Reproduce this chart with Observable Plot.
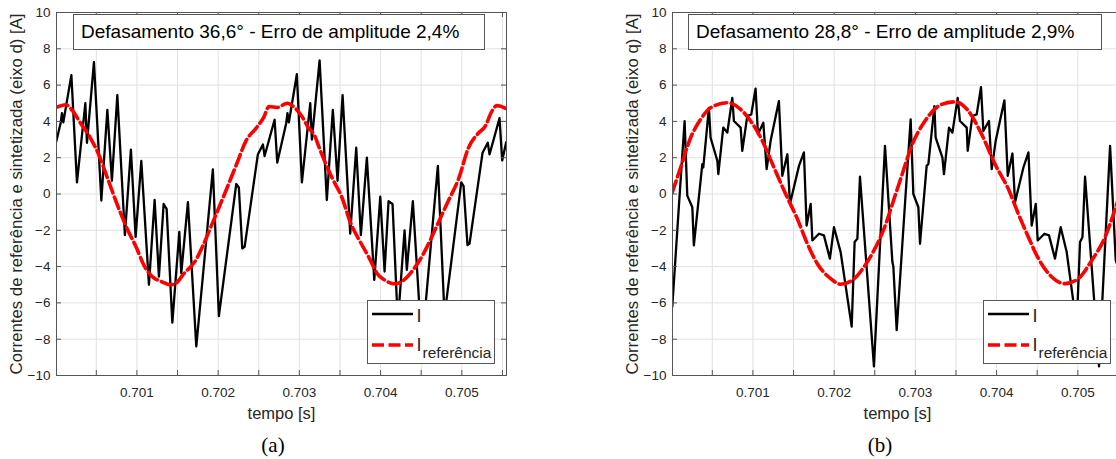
<!DOCTYPE html>
<html><head><meta charset="utf-8">
<script src="https://cdn.jsdelivr.net/npm/d3@7"></script>
<script src="https://cdn.jsdelivr.net/npm/@observablehq/plot@0.6"></script>
<style>
html,body{margin:0;padding:0;background:#fff;}
#page{position:relative;width:1116px;height:459px;overflow:hidden;font-family:"Liberation Sans",Arial,sans-serif;background:#fff;}
.panel{position:absolute;top:0;width:560px;height:425px;}
.panel svg{max-width:none !important;}
.tbox{position:absolute;top:14px;height:36px;box-sizing:border-box;border:1px solid #555;background:#fff;font-size:19px;line-height:34px;padding-left:7px;color:#000;white-space:nowrap;}
.legend{position:absolute;top:300px;width:128px;height:64px;}
.caption{position:absolute;top:430px;width:100px;text-align:center;font-family:"Liberation Serif","DejaVu Serif",serif;font-size:21px;line-height:30px;color:#000;}
</style></head><body><div id="page"></div>
<script>
// ---- tick values ----
const xTickLabels = [0.701, 0.702, 0.703, 0.704, 0.705];
const xTicksAll = [0.7005, 0.701, 0.7015, 0.702, 0.7025, 0.703, 0.7035, 0.704, 0.7045, 0.705, 0.7055];
const yTicks = [-10, -8, -6, -4, -2, 0, 2, 4, 6, 8, 10];
const xDomain = [0.70001, 0.70555];

// ---- panel (a): eixo d ----
const dBlackT = [0.700008,0.700061,0.700077,0.700094,0.700193,0.700262,0.700365,0.700385,0.700471,0.700562,0.700636,0.700692,0.700759,0.700852,0.700926,0.700984,0.701054,0.701148,0.701218,0.701271,0.701329,0.701366,0.701436,0.701522,0.701546,0.701628,0.701731,0.701935,0.702009,0.702223,0.702255,0.702297,0.702326,0.702489,0.702551,0.702572,0.702695,0.702728,
0.702838,0.702853,0.702871,0.702969,0.703031,0.703134,0.703154,0.703249,0.703338,0.703412,0.70347,0.703532,0.703626,0.7037,0.703757,0.703831,0.703922,0.703996,0.704049,0.704098,0.704147,0.704212,0.704295,0.704323,0.704397,0.704508,0.704705,0.704787,0.704993,0.705021,0.70507,0.705095,0.705255,0.70532,0.705341,0.705464,0.705497,0.705546];
const dBlackV = [2.91,3.91,4.45,3.95,6.55,0.64,5.0,2.82,7.27,-0.36,4.64,0.73,5.45,-2.27,2.45,-2.36,1.82,-5.0,-0.33,-4.55,-0.55,-0.82,-7.09,-2.09,-4.36,-0.45,-8.4,1.36,-6.73,0.55,0.36,-3.0,-2.91,2.18,2.73,2.09,4.09,1.73,
3.9,4.45,3.95,6.6,0.64,5.0,3.0,7.36,-0.33,4.64,0.73,5.45,-2.18,2.55,-2.27,2.0,-4.73,-0.15,-4.27,-0.4,-0.55,-7.09,-2.0,-4.18,-0.4,-8.4,1.55,-6.7,0.64,0.45,-2.82,-2.73,2.27,2.82,2.18,4.18,1.85,2.85];
const dRedT = [0.700008,0.700122,0.700205,0.700307,0.70043,0.700532,0.700636,0.700738,0.70087,0.700993,0.701095,0.701177,0.7013,0.701423,0.701485,0.701566,0.701731,0.701812,0.701935,0.702079,0.702223,0.702346,0.70247,0.702563,0.702625,0.702728,0.702851,0.702932,0.703036,0.703113,0.703178,0.703257,0.7034,0.703523,0.703626,0.70375,0.703873,0.703954,0.704057,0.70418,0.704262,0.704385,0.704508,0.704611,0.704713,0.704836,0.704959,0.705082,0.705206,0.705288,0.705369,0.705431,0.705534,0.705546];
const dRedV = [4.77,4.92,4.6,3.9,3.07,2.15,0.9,-0.35,-1.82,-2.95,-4.0,-4.5,-4.82,-5.0,-4.91,-4.45,-3.6,-2.85,-1.55,0.0,1.6,2.95,3.64,4.24,4.82,4.77,5.0,4.8,4.24,3.64,3.3,2.4,0.91,-0.18,-1.55,-2.64,-3.64,-4.36,-4.76,-4.95,-4.82,-4.27,-3.45,-2.55,-1.55,-0.36,0.82,2.55,3.36,3.73,4.55,4.87,4.73,4.7];

// ---- panel (b): eixo q ----
const qBlackT = [0.700007,0.700089,0.700159,0.700192,0.700254,0.700273,0.700377,0.700389,0.700458,0.700479,0.700562,0.700574,0.700635,0.700685,0.700746,0.700766,0.700849,0.700869,0.700931,0.70098,0.701033,0.701062,0.701128,0.701169,0.701218,0.70132,0.701362,0.701424,0.701456,0.701567,0.701628,0.701661,0.701711,0.701732,0.701813,0.701874,0.701948,0.701998,0.70208,0.702216,0.702252,0.702286,0.702318,0.70249,0.702626,0.702717,0.702729,0.70277,0.702872,0.702942,0.702975,0.703037,0.703057,0.703139,0.70316,0.703234,0.70325,0.703333,0.703352,0.703414,0.703456,0.703521,0.703549,0.703632,0.703644,0.703702,0.703755,0.703808,0.703837,0.703906,0.70394,0.703989,0.704096,0.704137,0.704195,0.704227,0.70433,0.704392,0.704432,0.704482,0.704506,0.704589,0.704645,0.704719,0.704789,0.704863,0.704986,0.705027,0.705057,0.705089,0.705261,0.705397,0.705467,0.705495,0.705536];
const qBlackV = [-6.22,-0.64,4.02,-0.09,-0.73,-2.83,1.65,1.46,4.75,3.1,1.83,1.1,3.66,3.38,5.3,4.02,3.66,2.38,4.3,4.39,5.81,3.29,3.93,1.37,2.93,5.12,1.0,2.19,-0.55,1.55,2.29,-1.74,-0.55,-2.56,-2.19,-2.28,-3.56,-1.83,-3.2,-7.31,-2.65,-2.47,0.95,-9.5,2.65,-3.75,-4.0,-7.5,-0.55,4.11,0.0,-0.73,-2.74,1.55,1.65,4.84,3.1,2.0,1.1,3.66,3.38,5.3,4.02,3.66,2.38,4.3,4.39,5.89,3.47,4.02,1.37,2.93,5.16,1.0,2.23,-0.46,1.46,2.29,-1.74,-0.55,-2.56,-2.19,-2.28,-3.56,-1.83,-3.2,-7.3,-2.65,-2.38,0.95,-9.5,2.65,-3.66,-4.0,-7.5];
const qRedT = [0.700007,0.70011,0.700233,0.700356,0.700479,0.700685,0.700849,0.700972,0.701116,0.701259,0.701403,0.701547,0.70167,0.701793,0.701957,0.70208,0.702224,0.702367,0.70249,0.702613,0.702757,0.702831,0.702954,0.703118,0.703324,0.703488,0.703653,0.703816,0.70398,0.704145,0.704268,0.704392,0.704515,0.704679,0.704842,0.705007,0.705171,0.705335,0.705479,0.705546];
const qRedV = [0.09,1.46,3.1,4.11,4.75,5.03,4.66,4.02,2.93,1.46,0.0,-1.37,-2.74,-3.84,-4.66,-4.97,-4.75,-4.02,-3.11,-1.92,0.0,1.0,2.65,4.02,4.94,5.08,4.57,3.29,1.65,0.27,-1.1,-2.38,-3.56,-4.57,-4.94,-4.66,-3.66,-2.38,-0.55,0.4];

// ---- texts ----
const titles = ["Defasamento 36,6° - Erro de amplitude 2,4%", "Defasamento 28,8° - Erro de amplitude 2,9%"];
const yLabels = ["Correntes de referência e sintetizada (eixo d) [A]", "Correntes de referência e sintetizada (eixo q) [A]"];
const xLabel = "tempo [s]";
const captions = ["(a)", "(b)"];
const legendMain = "I";
const legendSub = "referência";

const AX = "#555";
const TXT = "#262626";

function makePanel(bT, bV, rT, rV, ylab) {
  const black = bT.map((t, i) => ({t, v: bV[i]}));
  const red = rT.map((t, i) => ({t, v: rV[i]}));
  const W = 560, H = 425, mL = 56, mR = 54, mT = 12, mB = 50;
  const pw = W - mL - mR, ph = H - mT - mB;
  const svg = Plot.plot({
    width: W, height: H, marginLeft: mL, marginRight: mR, marginTop: mT, marginBottom: mB,
    style: {fontFamily: "Liberation Sans, Arial, sans-serif", color: TXT, background: "white", overflow: "visible", maxWidth: "none"},
    x: {domain: xDomain},
    y: {domain: [-10, 10]},
    marks: [
      Plot.ruleX(xTicksAll, {stroke: "#e2e2e2", strokeWidth: 1}),
      Plot.ruleY(yTicks.slice(1, -1), {stroke: "#e2e2e2", strokeWidth: 1}),
      Plot.line(black, {x: "t", y: "v", stroke: "#000", strokeWidth: 2.3, strokeLinejoin: "round", clip: true}),
      Plot.line(red, {x: "t", y: "v", stroke: "#ff0000", strokeWidth: 3.6, strokeDasharray: "12,4.5", curve: "monotone-x", clip: true}),
      Plot.ruleX(xTicksAll, {stroke: AX, insetTop: ph - 5}),
      Plot.ruleX(xTicksAll, {stroke: AX, insetBottom: ph - 5}),
      Plot.ruleY(yTicks, {stroke: AX, insetRight: pw - 5}),
      Plot.ruleY(yTicks, {stroke: AX, insetLeft: pw - 5}),
      Plot.frame({stroke: AX, strokeWidth: 1}),
      Plot.axisX(xTickLabels, {tickSize: 0, tickPadding: 12, tickFormat: d3.format(".3f"), fontSize: 13.5, fill: TXT, label: null}),
      Plot.axisY(yTicks, {tickSize: 0, tickPadding: 6, fontSize: 13.5, fill: TXT, label: null}),
      Plot.text([ylab], {text: d => d, frameAnchor: "left", textAnchor: "middle", lineAnchor: "middle", rotate: -90, dx: -40, fontSize: 16.8, fill: TXT}),
      Plot.text([xLabel], {text: d => d, frameAnchor: "bottom", textAnchor: "middle", lineAnchor: "middle", dy: 38, fontSize: 16.5, fill: TXT})
    ]
  });
  svg.style.maxWidth = "none";
  return svg;
}

function legendSvg() {
  const svg = d3.create("svg").attr("width", 128).attr("height", 64)
    .style("font-family", "Liberation Sans, Arial, sans-serif").style("display", "block");
  svg.append("rect").attr("x", 0.5).attr("y", 0.5).attr("width", 127).attr("height", 63)
    .attr("fill", "white").attr("stroke", AX);
  svg.append("line").attr("x1", 5).attr("x2", 46).attr("y1", 14).attr("y2", 14)
    .attr("stroke", "#000").attr("stroke-width", 2.3);
  svg.append("line").attr("x1", 5).attr("x2", 46).attr("y1", 45).attr("y2", 45)
    .attr("stroke", "#ff0000").attr("stroke-width", 3.6).attr("stroke-dasharray", "12,4.5");
  svg.append("text").attr("x", 49.5).attr("y", 21.5).attr("font-size", 18).attr("fill", TXT).text(legendMain);
  svg.append("text").attr("x", 49.5).attr("y", 50.5).attr("font-size", 18).attr("fill", TXT).text(legendMain);
  svg.append("text").attr("x", 55.5).attr("y", 57.7).attr("font-size", 15.5).attr("fill", TXT).text(legendSub);
  return svg.node();
}

const page = document.getElementById("page");
const panels = [
  {left: 0, bT: dBlackT, bV: dBlackV, rT: dRedT, rV: dRedV, boxLeft: 73, boxW: 412, legLeft: 367, capLeft: 223},
  {left: 616, bT: qBlackT, bV: qBlackV, rT: qRedT, rV: qRedV, boxLeft: 688, boxW: 414, legLeft: 983, capLeft: 830}
];
panels.forEach((p, i) => {
  const div = document.createElement("div");
  div.className = "panel";
  div.style.left = p.left + "px";
  div.appendChild(makePanel(p.bT, p.bV, p.rT, p.rV, yLabels[i]));
  page.appendChild(div);

  const box = document.createElement("div");
  box.className = "tbox";
  box.style.left = p.boxLeft + "px";
  box.style.width = p.boxW + "px";
  box.textContent = titles[i];
  page.appendChild(box);

  const leg = document.createElement("div");
  leg.className = "legend";
  leg.style.left = p.legLeft + "px";
  leg.appendChild(legendSvg());
  page.appendChild(leg);

  const cap = document.createElement("div");
  cap.className = "caption";
  cap.style.left = p.capLeft + "px";
  cap.textContent = captions[i];
  page.appendChild(cap);
});
</script>
</body></html>
